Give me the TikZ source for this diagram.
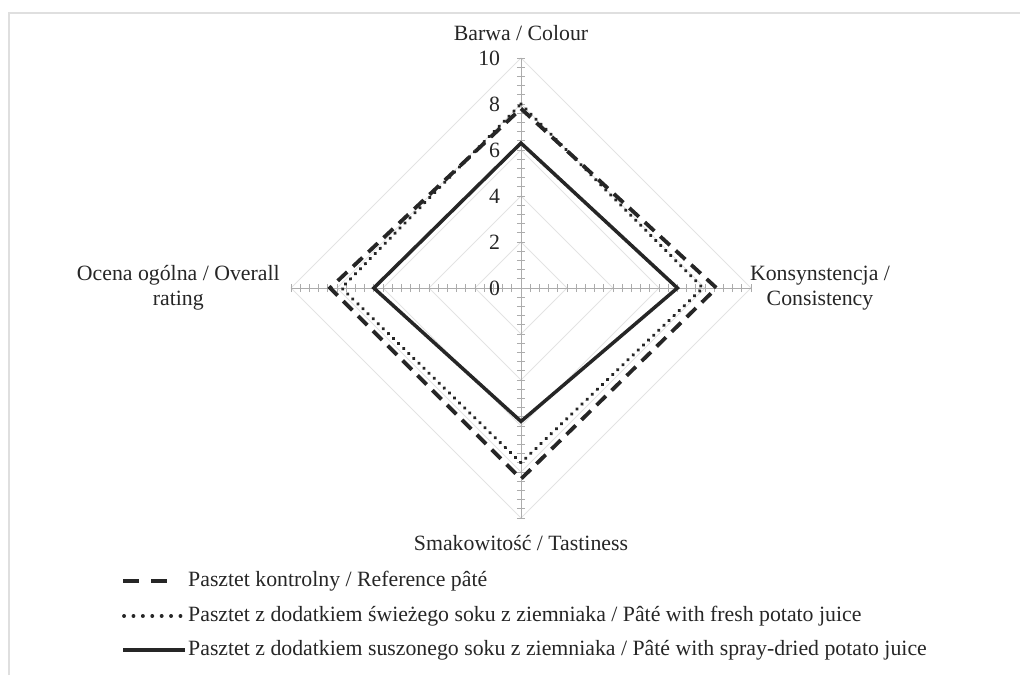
\documentclass[tikz,border=0pt]{standalone}
\usepackage{fontspec}
\setmainfont{Liberation Serif}
\usetikzlibrary{calc}

\begin{document}
\begin{tikzpicture}[x=1pt,y=-1pt,
		gridline/.style={gray!22, line width=0.8pt},
		axisline/.style={gray!65, line width=1pt},
		refline/.style={black!85, line width=3.8pt, dash pattern=on 13pt off 8pt},
		freshline/.style={black!85, line width=3.8pt, line cap=round, dash pattern=on 0.1pt off 7pt},
		dryline/.style={black!85, line width=3.5pt},
		lbl/.style={font=\fontsize{21.8}{25}\selectfont, text=black!85, inner sep=0pt}]
		%%%%% START %%%%%
		
		\useasboundingbox (0,0) rectangle (1020,675);
		\draw[gray!25, line width=1.5pt] (9,675) -- (9,13) -- (1020,13);
		
		\begin{scope}[shift={(521,288)}, x=23pt, y=23pt]
		% grid
		\foreach \r in {2,4,...,10}
			\draw[gridline] (0,\r) -- (\r,0) -- (0,-\r) -- (-\r,0) -- cycle;
		
		% axes and ticks
		\draw[axisline] (-10,0) -- (10,0);
		\draw[axisline] (0,-10) -- (0,10);
		\foreach \i in {1,...,25}{
			\pgfmathsetmacro\t{0.4*\i}
			\draw[axisline] (\t,-0.18) -- (\t,0.18);
			\draw[axisline] (-\t,-0.18) -- (-\t,0.18);
			\draw[axisline] (-0.18,\t) -- (0.18,\t);
			\draw[axisline] (-0.18,-\t) -- (0.18,-\t);
		}
		\foreach \v in {0,2,...,10}
			\node[lbl, anchor=east] (tick\v) at (-0.9,\v) {\v};
		
		% axis labels
		\node[lbl] (colour) at (0,11.1) {Barwa / Colour};
		\node[lbl, align=center] (consist) at (13,0) {Konsynstencja /\\Consistency};
		\node[lbl, align=center] (overall) at (-14.9,0) {Ocena ogólna / Overall\\rating};
		\node[lbl] (tasty) at (0,-11.1) {Smakowitość / Tastiness};
		
		% data
		\coordinate (ref1) at (0,7.8);  \coordinate (ref2) at (8.5,0);
		\coordinate (ref3) at (0,-8.3); \coordinate (ref4) at (-8.3,0);
		\coordinate (fr1) at (0,8.0);   \coordinate (fr2) at (7.9,0);
		\coordinate (fr3) at (0,-7.6);  \coordinate (fr4) at (-7.8,0);
		\coordinate (dr1) at (0,6.3);   \coordinate (dr2) at (6.8,0);
		\coordinate (dr3) at (0,-5.8);  \coordinate (dr4) at (-6.4,0);
		
		\draw[refline] (ref1) -- (ref2) -- (ref3) -- (ref4) -- cycle;
		\draw[freshline] (fr1) -- (fr2) -- (fr3) -- (fr4) -- cycle;
		\draw[dryline] (dr1) -- (dr2) -- (dr3) -- (dr4) -- cycle;
		\end{scope}
		
		% legend
		\node[lbl, anchor=west] (leg1) at (188,581) {Pasztet kontrolny / Reference pâté};
		\node[lbl, anchor=west] (leg2) at (188,616) {Pasztet z dodatkiem świeżego soku z ziemniaka / Pâté with fresh potato juice};
		\node[lbl, anchor=west] (leg3) at (188,650) {Pasztet z dodatkiem suszonego soku z ziemniaka / Pâté with spray-dried potato juice};
		\coordinate (s1) at (123,581);
		\coordinate (s2) at (124,616);
		\coordinate (s3) at (123,650);
		\draw[refline, dash pattern=on 16pt off 12pt] (s1) -- ([xshift=-20pt]leg1.west);
		\draw[freshline, dash pattern=on 0.1pt off 9.3pt] (s2) -- ([xshift=-7pt]leg2.west);
		\draw[dryline] (s3) -- ([xshift=-3pt]leg3.west);
		
		%%%%% END %%%%%
	\end{tikzpicture}
\end{document}
